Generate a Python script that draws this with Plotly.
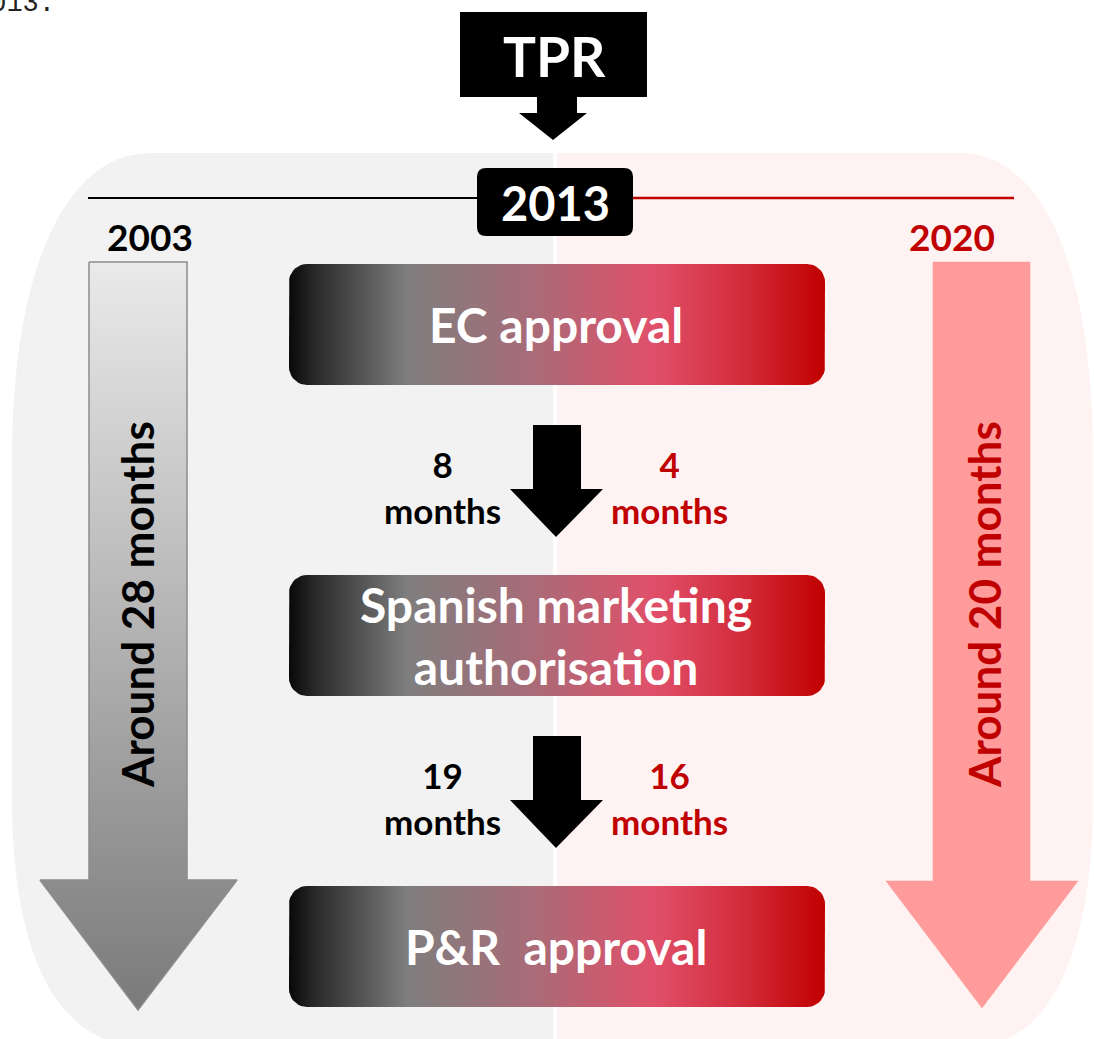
import numpy as np
import plotly.graph_objects as go

# ---------------- data ----------------
years = ["2003", "2013", "2020"]
header_label = "TPR"
stages = ["EC approval", "Spanish marketing<br>authorisation", "P&R  approval"]
months_2003 = [8, 19]
months_2020 = [4, 16]
total_2003 = 28
total_2020 = 20

W, H = 1094, 1039
BLACK = "#000000"
RED = "#C00000"
FONT = "Lato"

fig = go.Figure()
shapes = []
annotations = []

# ---------------- background panels ----------------
shapes.append(dict(type="path", layer="below", line=dict(width=0), fillcolor="#F2F2F2",
                   path="M 553,153 L 150,153 C 70,153 12,260 12,460 L 12,800 "
                        "C 12,950 55,1045 140,1045 L 553,1045 Z"))
shapes.append(dict(type="path", layer="below", line=dict(width=0), fillcolor="#FFF2F2",
                   path="M 557,153 L 960,153 C 1040,153 1093,260 1093,460 L 1093,800 "
                        "C 1093,950 1050,1045 975,1045 L 557,1045 Z"))

# timeline lines
shapes.append(dict(type="line", layer="below", x0=88, x1=490, y0=198, y1=198,
                   line=dict(color=BLACK, width=2)))
shapes.append(dict(type="line", layer="below", x0=620, x1=1014, y0=198, y1=198,
                   line=dict(color=RED, width=2.5)))


def rr_path(x0, y0, x1, y1, r):
    return (f"M {x0+r},{y0} L {x1-r},{y0} Q {x1},{y0} {x1},{y0+r} L {x1},{y1-r} "
            f"Q {x1},{y1} {x1-r},{y1} L {x0+r},{y1} Q {x0},{y1} {x0},{y1-r} "
            f"L {x0},{y0+r} Q {x0},{y0} {x0+r},{y0} Z")


def rr_points(x0, y0, x1, y1, r, n=10):
    xs, ys = [], []
    corners = [(x1 - r, y0 + r, -np.pi / 2, 0), (x1 - r, y1 - r, 0, np.pi / 2),
               (x0 + r, y1 - r, np.pi / 2, np.pi), (x0 + r, y0 + r, np.pi, 1.5 * np.pi)]
    for cx, cy, a0, a1 in corners:
        t = np.linspace(a0, a1, n)
        xs += list(cx + r * np.cos(t))
        ys += list(cy + r * np.sin(t))
    xs.append(xs[0]); ys.append(ys[0])
    return xs, ys


# 2013 box
shapes.append(dict(type="path", layer="below", line=dict(width=0), fillcolor=BLACK,
                   path=rr_path(477, 168, 633, 236, 9)))
annotations.append(dict(x=555, y=203, text=years[1], showarrow=False,
                        font=dict(family=FONT, size=47, color="white", weight=700)))

# TPR box and arrow
shapes.append(dict(type="rect", layer="below", x0=460, x1=647, y0=12, y1=97,
                   line=dict(width=0), fillcolor=BLACK))
shapes.append(dict(type="path", layer="below", line=dict(width=0), fillcolor=BLACK,
                   path="M 537,96 L 577,96 L 577,113 L 587,113 L 553,140 L 519,113 L 537,113 Z"))
annotations.append(dict(x=554, y=56, text=header_label, showarrow=False,
                        font=dict(family=FONT, size=55, color="white", weight=700)))

# year labels
annotations.append(dict(x=150, y=236, text=years[0], showarrow=False,
                        font=dict(family=FONT, size=37, color=BLACK, weight=700)))
annotations.append(dict(x=952, y=236, text=years[2], showarrow=False,
                        font=dict(family=FONT, size=37, color=RED, weight=700)))

# ---------------- big side arrows ----------------
ax = [89, 187, 187, 237, 138, 40, 89, 89]
ay = [262, 262, 880, 880, 1010, 880, 880, 262]
fig.add_trace(go.Scatter(x=ax, y=ay, mode="lines", fill="toself",
                         line=dict(color="#8C8C8C", width=1.5),
                         fillgradient=dict(type="vertical",
                                           colorscale=[[0, "#7A7A7A"], [1, "#EAEAEA"]]),
                         hoverinfo="skip", showlegend=False))
bx = [933, 1030, 1030, 1078, 982, 886, 933, 933]
by = [262, 262, 881, 881, 1008, 881, 881, 262]
fig.add_trace(go.Scatter(x=bx, y=by, mode="lines", fill="toself", fillcolor="#FF9B9B",
                         line=dict(color="#FF9B9B", width=0.5),
                         hoverinfo="skip", showlegend=False))

annotations.append(dict(x=137, y=605, text=f"Around {total_2003} months", showarrow=False,
                        textangle=-90,
                        font=dict(family=FONT, size=44, color=BLACK, weight=700)))
annotations.append(dict(x=984, y=605, text=f"Around {total_2020} months", showarrow=False,
                        textangle=-90,
                        font=dict(family=FONT, size=44, color=RED, weight=700)))

# ---------------- stage boxes ----------------
box_y = [(264, 385), (575, 696), (886, 1007)]
grad = [[0, "#080808"], [0.05, "#2A2A2A"], [0.22, "#7E7E7E"], [0.45, "#A86C78"],
        [0.68, "#E0506A"], [0.85, "#D22B3A"], [1, "#C00000"]]
for (y0, y1), label in zip(box_y, stages):
    xs, ys = rr_points(289, y0, 825, y1, 18)
    fig.add_trace(go.Scatter(x=xs, y=ys, mode="lines", fill="toself",
                             line=dict(width=0, color="rgba(0,0,0,0)"),
                             fillgradient=dict(type="horizontal", colorscale=grad),
                             hoverinfo="skip", showlegend=False))
    annotations.append(dict(x=556, y=(y0 + y1) / 2, text=label, showarrow=False,
                            font=dict(family=FONT, size=48, color="white", weight=700)))

# ---------------- step arrows & month labels ----------------
arrow_tops = [(425, 489, 537), (736, 800, 848)]
for (t, h, tip), m03, m20 in zip(arrow_tops, months_2003, months_2020):
    shapes.append(dict(type="path", layer="above", line=dict(width=0), fillcolor=BLACK,
                       path=f"M 533,{t} L 581,{t} L 581,{h} L 603,{h} L 556,{tip} "
                            f"L 510,{h} L 533,{h} Z"))
    cy = (t + tip) / 2 + 6
    annotations.append(dict(x=442, y=cy, text=f"{m03}<br>months", showarrow=False,
                            font=dict(family=FONT, size=35, color=BLACK, weight=700)))
    annotations.append(dict(x=669, y=cy, text=f"{m20}<br>months", showarrow=False,
                            font=dict(family=FONT, size=35, color=RED, weight=700)))

# clipped caption remnant at the top-left
annotations.append(dict(x=57, y=21, text="2013:", showarrow=False, xanchor="right",
                        yanchor="bottom",
                        font=dict(family="Liberation Mono", size=27, color="#222222")))

fig.update_layout(
    width=W, height=H, margin=dict(l=0, r=0, t=0, b=0),
    paper_bgcolor="white", plot_bgcolor="white",
    xaxis=dict(range=[0, W], visible=False, fixedrange=True),
    yaxis=dict(range=[H, 0], visible=False, fixedrange=True),
    shapes=shapes, annotations=annotations, showlegend=False,
)

fig.write_html("out.html", config={"displayModeBar": False},
               post_script="document.body.style.margin='0';")
